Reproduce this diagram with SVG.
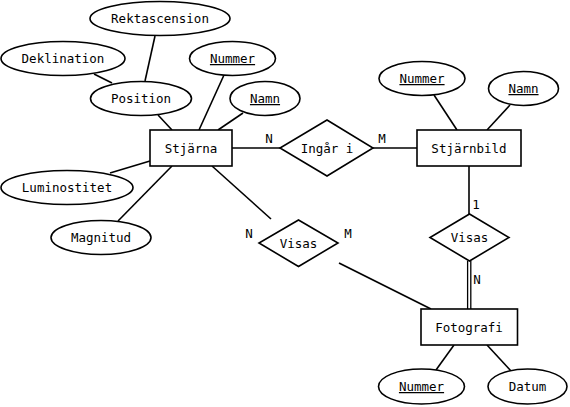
<svg xmlns="http://www.w3.org/2000/svg" width="570" height="407" viewBox="0 0 570 407">
<style>
.s{fill:#fff;stroke:#000;stroke-width:1.6}
.c line{stroke:#000;stroke-width:1.6}
text{font-family:"DejaVu Sans Mono","Liberation Mono",monospace;font-size:12.5px;fill:#000;text-anchor:middle}
.k{text-decoration:underline;text-decoration-thickness:1.6px;text-underline-offset:2px}
</style>
<rect width="570" height="407" fill="#fff"/>
<g class="c" id="connectors">
<line x1="155" y1="36" x2="145" y2="81"/>
<line x1="94" y1="74" x2="112" y2="83"/>
<line x1="158" y1="115" x2="172" y2="130"/>
<line x1="224" y1="75" x2="199" y2="130"/>
<line x1="243" y1="113" x2="218" y2="130"/>
<line x1="232" y1="148" x2="280" y2="148"/>
<line x1="373" y1="148" x2="417" y2="148"/>
<line x1="434" y1="95" x2="457" y2="130"/>
<line x1="510" y1="105" x2="487" y2="130"/>
<line x1="110" y1="173" x2="150" y2="161"/>
<line x1="118" y1="221" x2="172" y2="166"/>
<line x1="212" y1="166" x2="271" y2="219"/>
<line x1="339" y1="263" x2="431" y2="309"/>
<line x1="469" y1="166" x2="469" y2="214"/>
<line x1="467.6" y1="261" x2="467.6" y2="309" style="stroke-width:1.3"/>
<line x1="470.8" y1="261" x2="470.8" y2="309" style="stroke-width:1.3"/>
<line x1="454" y1="345" x2="436" y2="370"/>
<line x1="487" y1="345" x2="511" y2="371"/>
</g>
<g id="labels">
<text x="269" y="143">N</text>
<text x="382" y="143">M</text>
<text x="249" y="238">N</text>
<text x="348" y="238">M</text>
<text x="476" y="209">1</text>
<text x="477" y="284">N</text>
</g>
<g id="rektascension"><ellipse class="s" cx="160" cy="18.5" rx="70" ry="17"/><text x="160" y="23">Rektascension</text></g>
<g id="deklination"><ellipse class="s" cx="63" cy="58.5" rx="62" ry="17"/><text x="63" y="63">Deklination</text></g>
<g id="nummer-stjarna"><ellipse class="s" cx="232.5" cy="58.5" rx="43" ry="17"/><text class="k" x="232.5" y="63">Nummer</text></g>
<g id="position"><ellipse class="s" cx="141" cy="98.5" rx="50.5" ry="17"/><text x="141" y="103">Position</text></g>
<g id="namn-stjarna"><ellipse class="s" cx="265" cy="98.5" rx="35" ry="17"/><text class="k" x="265" y="103">Namn</text></g>
<g id="stjarna"><rect class="s" x="150" y="130" width="82" height="36"/><text x="191" y="152.5">Stjärna</text></g>
<g id="luminostitet"><ellipse class="s" cx="67" cy="187.5" rx="66" ry="17"/><text x="67" y="192">Luminostitet</text></g>
<g id="magnitud"><ellipse class="s" cx="101" cy="237.5" rx="50" ry="17"/><text x="101" y="242">Magnitud</text></g>
<g id="ingar-i"><polygon class="s" points="327,120 373,148 327,176 280,148"/><text x="327" y="152.5">Ingår i</text></g>
<g id="stjarnbild"><rect class="s" x="417" y="130" width="104" height="36"/><text x="469" y="152.5">Stjärnbild</text></g>
<g id="nummer-stjarnbild"><ellipse class="s" cx="422" cy="78.5" rx="43" ry="17"/><text class="k" x="422" y="83">Nummer</text></g>
<g id="namn-stjarnbild"><ellipse class="s" cx="523.5" cy="88.5" rx="35" ry="17"/><text class="k" x="523.5" y="93">Namn</text></g>
<g id="visas-stjarna"><polygon class="s" points="298.5,220 338,243 298.5,266.5 259,243"/><text x="298.5" y="247.5">Visas</text></g>
<g id="visas-stjarnbild"><polygon class="s" points="469.5,214 509,237.5 469.5,261 430,237.5"/><text x="469.5" y="242">Visas</text></g>
<g id="fotografi"><rect class="s" x="421" y="309" width="96.5" height="36"/><text x="469" y="331.5">Fotografi</text></g>
<g id="nummer-fotografi"><ellipse class="s" cx="421.5" cy="386.5" rx="43" ry="17.5"/><text class="k" x="421.5" y="391">Nummer</text></g>
<g id="datum"><ellipse class="s" cx="527.5" cy="386.5" rx="39.5" ry="17.5"/><text x="527.5" y="391">Datum</text></g>
</svg>
